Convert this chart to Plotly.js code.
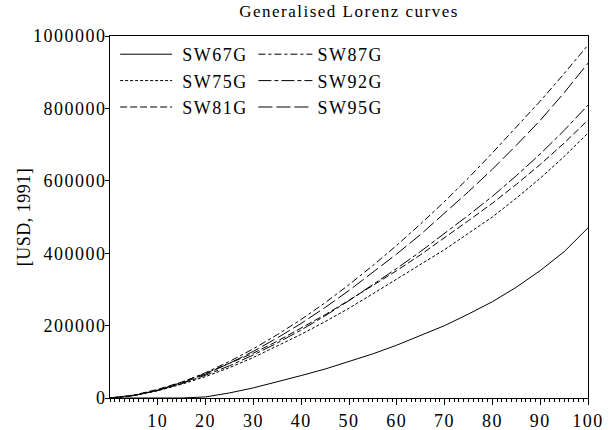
<!DOCTYPE html>
<html>
<head>
<meta charset="utf-8">
<script src="https://cdn.plot.ly/plotly-3.0.1.min.js"></script>
<style>
html,body{margin:0;padding:0;background:#fff;}
#chart text{letter-spacing:1.5px;}
#chart .g-ytitle text{letter-spacing:0.5px;}
</style>
</head>
<body>
<div id="chart" style="width:610px;height:430px;"></div>
<script>
const pct = [0,5,10,15,20,25,30,35,40,45,50,55,60,65,70,75,80,85,90,95,100];
const sw67g = [0,0,0,0,3000,14000,28000,44000,62000,80000,100000,122000,146000,172000,200000,232000,266000,306000,352000,404000,470000];
const sw75g = [0,7000,20000,38000,59000,84000,112000,143000,176000,211000,248000,288000,328000,368000,410000,455000,500000,552000,607000,667000,732000];
const sw81g = [0,8000,24000,44000,68000,95000,124000,157000,193000,230000,270000,311000,352000,396000,442000,490000,538000,590000,645000,704000,768000];
const sw87g = [0,7000,22000,43000,70000,101000,136000,175000,217000,263000,313000,366000,422000,481000,543000,608000,677000,747000,820000,896000,975000];
const sw92g = [0,7000,21000,40000,63000,89000,119000,152000,188000,227000,269000,313000,358000,405000,454000,505000,557000,614000,674000,739000,809000];
const sw95g = [0,7000,21000,41000,66000,96000,129000,166000,206000,250000,297000,347000,398000,452000,510000,570000,632000,698000,767000,843000,925000];
const xTicks = [10,20,30,40,50,60,70,80,90,100];
const yTicks = [0,200000,400000,600000,800000,1000000];

const font = 'Liberation Serif, Times New Roman, serif';
function tr(name, y, dash, leg){
  return {x: pct, y: y, name: name, type: 'scatter', mode: 'lines', legend: leg,
    line: {color: '#000', width: 1, dash: dash}};
}
const data = [
  tr('SW67G', sw67g, 'solid', 'legend'),
  tr('SW75G', sw75g, '3px,2px', 'legend'),
  tr('SW81G', sw81g, '7px,3px', 'legend'),
  tr('SW87G', sw87g, '7px,3px,3px,3px', 'legend2'),
  tr('SW92G', sw92g, '13px,3px,4px,3px', 'legend2'),
  tr('SW95G', sw95g, '14px,4px', 'legend2')
];
const legBase = {orientation: 'v', y: 1.0, xanchor: 'left', yanchor: 'top',
  traceorder: 'normal', bgcolor: 'rgba(0,0,0,0)',
  font: {family: font, size: 18, color: '#000'}, itemwidth: 54, tracegroupgap: 0};
const layout = {
  width: 610, height: 430,
  margin: {l: 110, r: 22, t: 36, b: 32},
  paper_bgcolor: '#fff', plot_bgcolor: '#fff',
  font: {family: font, size: 16, color: '#000'},
  title: {text: 'Generalised Lorenz curves', x: 0.5, xref: 'paper', y: 0.975, yanchor: 'middle',
          font: {family: font, size: 17, color: '#000'}},
  showlegend: true,
  legend: Object.assign({}, legBase, {x: 0.017}),
  legend2: Object.assign({}, legBase, {x: 0.30}),
  xaxis: {range: [0, 100], tickvals: xTicks, ticktext: xTicks.map(String),
          ticks: 'outside', ticklen: 6, tickcolor: '#000', tickwidth: 1,
          minor: {dtick: 1, tick0: 0, ticks: 'outside', ticklen: 3, tickcolor: '#000', tickwidth: 1},
          showline: true, linecolor: '#000', linewidth: 1, mirror: true,
          showgrid: false, zeroline: false,
          tickfont: {family: font, size: 18, color: '#000'}},
  yaxis: {range: [0, 1000000], tickvals: yTicks, ticktext: yTicks.map(String),
          ticks: 'outside', ticklen: 4, tickcolor: '#000',
          ticklabelstandoff: -5,
          showline: true, linecolor: '#000', linewidth: 1, mirror: true,
          showgrid: false, zeroline: false,
          tickfont: {family: font, size: 18, color: '#000'},
          title: {text: '[USD, 1991]', standoff: 8, font: {family: font, size: 18, color: '#000'}}}
};
Plotly.newPlot('chart', data, layout, {displayModeBar: false, staticPlot: true}).then(function(){
  document.querySelectorAll('#chart .legend .legendlines path').forEach(function(p){
    p.setAttribute('d', 'M2,0h52');
  });
});
</script>
</body>
</html>
